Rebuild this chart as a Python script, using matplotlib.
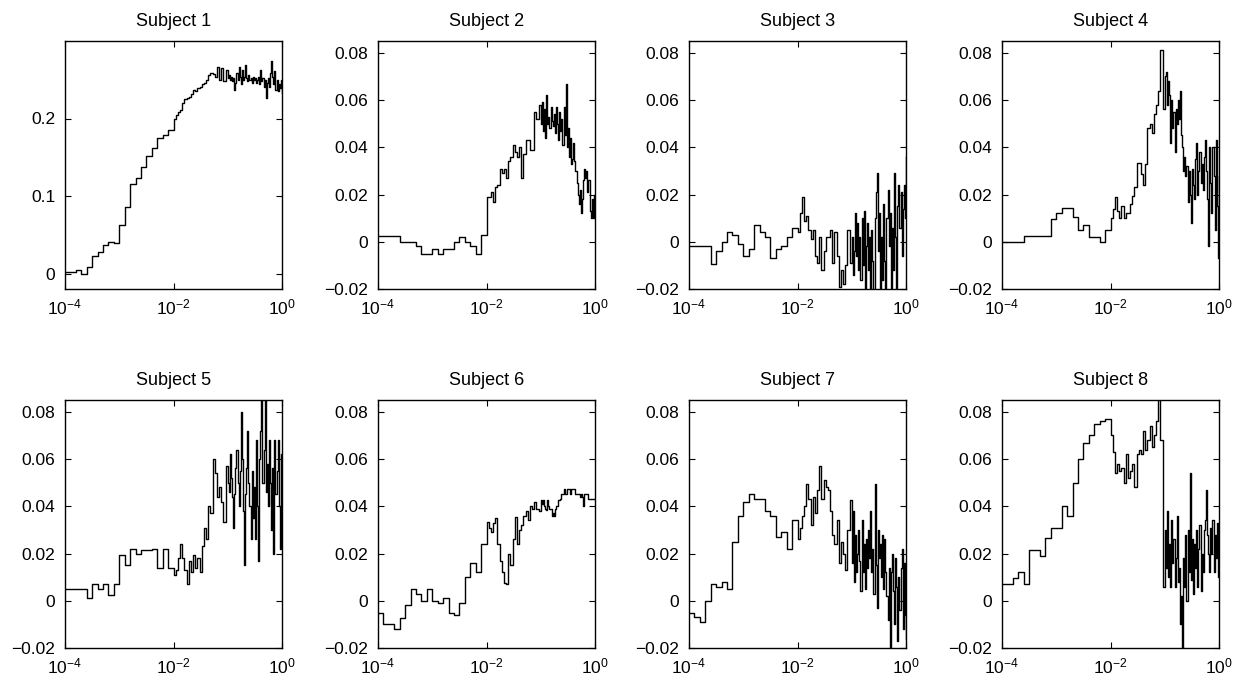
import numpy as np
import matplotlib
matplotlib.use("Agg")
import matplotlib.pyplot as plt
from matplotlib.ticker import FixedLocator, NullLocator, FuncFormatter

plt.rcParams['font.family'] = ['Liberation Sans', 'DejaVu Sans']
plt.rcParams['mathtext.fontset'] = 'custom'
plt.rcParams['mathtext.rm'] = 'Liberation Sans'
plt.rcParams['mathtext.it'] = 'Liberation Sans:italic'
plt.rcParams['mathtext.bf'] = 'Liberation Sans:bold'

# sampling grid in log10(x): coarse at the left, finer to the right
log_x = np.concatenate([np.linspace(-4.0, -2.1, 20),
                        np.linspace(-2.0, -1.04, 25),
                        np.linspace(-1.0, 0.0, 51)])

titles = ["Subject %d" % k for k in range(1, 9)]

s1 = [0.002, 0.002, 0.004, 0.0, 0.008, 0.022, 0.028, 0.037, 0.041, 0.040,
      0.062, 0.086, 0.116, 0.123, 0.138, 0.151, 0.162, 0.175, 0.179, 0.185,
      0.200, 0.205, 0.209, 0.211, 0.220, 0.225, 0.226, 0.228, 0.232, 0.237,
      0.235, 0.239, 0.241, 0.244, 0.246, 0.250, 0.256, 0.259, 0.258, 0.254,
      0.267, 0.250, 0.265, 0.248, 0.263,
      0.252, 0.256, 0.250, 0.254, 0.248, 0.252, 0.237, 0.246, 0.259, 0.250,
      0.267, 0.254, 0.244, 0.263, 0.250, 0.254, 0.269, 0.252, 0.248, 0.256,
      0.250, 0.252, 0.246, 0.254, 0.250, 0.252, 0.246, 0.250, 0.254, 0.244,
      0.263, 0.248, 0.252, 0.241, 0.250, 0.226, 0.246, 0.252, 0.241, 0.259,
      0.274, 0.254, 0.244, 0.261, 0.237, 0.250, 0.235, 0.244, 0.239, 0.250,
      0.233]

s2 = [0.0025, 0.0025, 0.0025, 0.0025, 0.0, 0.0, 0.0, -0.002, -0.005, -0.005,
      -0.003, -0.005, -0.003, -0.003, 0.0, 0.002, 0.0, -0.002, -0.005, 0.003,
      0.019, 0.019, 0.021, 0.017, 0.023, 0.024, 0.031, 0.029, 0.031, 0.027,
      0.034, 0.036, 0.041, 0.038, 0.036, 0.040, 0.027, 0.037, 0.043, 0.043,
      0.039, 0.039, 0.055, 0.052, 0.058,
      0.050, 0.059, 0.047, 0.056, 0.044, 0.062, 0.050, 0.053, 0.048, 0.057,
      0.051, 0.049, 0.054, 0.046, 0.057, 0.050, 0.043, 0.055, 0.047, 0.052,
      0.041, 0.057, 0.045, 0.067, 0.040, 0.048, 0.036, 0.044, 0.033, 0.035,
      0.042, 0.034, 0.030, 0.025, 0.020, 0.016, 0.022, 0.012, 0.018, 0.026,
      0.031, 0.027, 0.030, 0.021, 0.026, 0.013, 0.010, 0.018, 0.010, 0.020,
      0.010]

s3 = [-0.002, -0.002, -0.002, -0.002, -0.0095, -0.004, 0.0, 0.004, 0.003, -0.001,
      -0.006, -0.003, 0.007, 0.004, 0.002, -0.007, -0.003, -0.002, 0.002, 0.006,
      0.004, 0.012, 0.019, 0.009, 0.011, 0.005, 0.001, 0.005, -0.006, -0.009,
      0.002, -0.012, -0.004, 0.002, 0.002, 0.005, -0.009, 0.004, -0.006, -0.019,
      -0.012, -0.018, -0.010, 0.005, -0.009,
      0.002, -0.014, -0.004, 0.012, -0.006, 0.008, -0.012, 0.002, -0.016, 0.010,
      -0.010, 0.013, -0.021, -0.002, 0.008, -0.012, 0.002, -0.021, 0.005, -0.008,
      -0.021, 0.010, 0.021, 0.029, -0.004, 0.012, -0.021, 0.002, -0.016, 0.016,
      -0.008, -0.021, 0.010, 0.022, -0.002, 0.012, -0.021, 0.006, -0.012, 0.029,
      0.002, -0.021, 0.015, 0.024, 0.006, 0.021, -0.006, 0.014, 0.024, 0.010,
      0.036]

s4 = [0.0, 0.0, 0.0, 0.0, 0.0025, 0.0025, 0.0025, 0.0025, 0.0025, 0.0095,
      0.012, 0.0145, 0.0145, 0.0105, 0.005, 0.007, 0.002, 0.002, 0.0, 0.005,
      0.010, 0.014, 0.019, 0.013, 0.010, 0.015, 0.010, 0.012, 0.012, 0.016,
      0.0195, 0.023, 0.0335, 0.0335, 0.0285, 0.024, 0.033, 0.048, 0.050, 0.046,
      0.054, 0.058, 0.064, 0.081, 0.056,
      0.070, 0.072, 0.058, 0.068, 0.062, 0.042, 0.060, 0.048, 0.055, 0.038,
      0.056, 0.050, 0.060, 0.052, 0.064, 0.045, 0.040, 0.030, 0.036, 0.028,
      0.032, 0.017, 0.030, 0.020, 0.008, 0.031, 0.024, 0.018, 0.035, 0.042,
      0.020, 0.030, 0.038, 0.025, 0.033, 0.022, 0.036, 0.043, 0.030, 0.018,
      -0.002, 0.040, 0.025, 0.012, 0.040, 0.028, 0.005, 0.043, 0.015, -0.007,
      0.028]

s5 = [0.005, 0.005, 0.005, 0.005, 0.001, 0.007, 0.005, 0.007, 0.0025, 0.007,
      0.0195, 0.015, 0.022, 0.020, 0.0215, 0.0215, 0.022, 0.014, 0.022, 0.014,
      0.011, 0.013, 0.018, 0.024, 0.018, 0.013, 0.007, 0.017, 0.012, 0.0195,
      0.014, 0.018, 0.012, 0.023, 0.031, 0.026, 0.040, 0.037, 0.060, 0.054,
      0.044, 0.048, 0.042, 0.0335, 0.057,
      0.050, 0.046, 0.062, 0.052, 0.044, 0.031, 0.045, 0.056, 0.064, 0.050,
      0.040, 0.055, 0.080, 0.060, 0.038, 0.015, 0.045, 0.056, 0.072, 0.050,
      0.040, 0.026, 0.055, 0.035, 0.048, 0.026, 0.068, 0.040, 0.017, 0.060,
      0.072, 0.088, 0.050, 0.064, 0.088, 0.046, 0.058, 0.040, 0.068, 0.050,
      0.030, 0.056, 0.020, 0.068, 0.045, 0.055, 0.068, 0.040, 0.022, 0.062,
      0.040]

s6 = [-0.005, -0.010, -0.010, -0.012, -0.0075, -0.002, 0.005, 0.003, 0.0, 0.005,
      0.0, -0.001, 0.001, -0.005, -0.006, -0.001, 0.010, 0.016, 0.012, 0.024,
      0.0335, 0.031, 0.029, 0.033, 0.035, 0.024, 0.017, 0.012, 0.0075, 0.007,
      0.020, 0.015, 0.026, 0.0355, 0.024, 0.030, 0.032, 0.036, 0.038, 0.034,
      0.040, 0.039, 0.042, 0.039, 0.038,
      0.0425, 0.041, 0.0425, 0.040, 0.039, 0.0385, 0.0425, 0.040, 0.039, 0.039,
      0.036, 0.037, 0.036, 0.039, 0.040, 0.040, 0.0425, 0.0425, 0.043, 0.045,
      0.045, 0.0475, 0.045, 0.045, 0.0475, 0.0475, 0.0475, 0.045, 0.0475, 0.0475,
      0.0475, 0.0475, 0.045, 0.045, 0.045, 0.045, 0.044, 0.045, 0.044, 0.040,
      0.045, 0.045, 0.045, 0.045, 0.043, 0.043, 0.043, 0.043, 0.043, 0.043,
      0.043]

s7 = [-0.005, -0.007, -0.009, 0.0, 0.007, 0.006, 0.008, 0.005, 0.025, 0.036,
      0.042, 0.045, 0.043, 0.043, 0.038, 0.036, 0.027, 0.029, 0.022, 0.034,
      0.026, 0.031, 0.036, 0.040, 0.0495, 0.043, 0.032, 0.044, 0.037, 0.047,
      0.057, 0.043, 0.051, 0.048, 0.047, 0.038, 0.028, 0.024, 0.034, 0.016,
      0.025, 0.020, 0.013, 0.030, 0.0425,
      0.016, 0.038, 0.008, 0.028, 0.012, 0.020, 0.030, 0.017, 0.004, 0.034,
      0.012, 0.024, 0.005, 0.026, 0.014, 0.030, 0.018, 0.038, 0.012, 0.022,
      0.003, 0.0495, 0.015, -0.003, 0.030, 0.018, 0.024, 0.010, 0.028, 0.005,
      0.026, 0.012, 0.002, -0.008, 0.014, -0.021, 0.012, 0.020, 0.004, -0.010,
      0.018, 0.006, -0.017, 0.010, -0.004, 0.014, 0.022, -0.012, 0.016, -0.006,
      -0.016]

s8 = [0.007, 0.007, 0.0095, 0.012, 0.007, 0.0215, 0.0215, 0.019, 0.0265, 0.031,
      0.031, 0.040, 0.036, 0.050, 0.060, 0.067, 0.070, 0.075, 0.076, 0.077,
      0.070, 0.063, 0.054, 0.058, 0.055, 0.056, 0.050, 0.062, 0.052, 0.055,
      0.058, 0.048, 0.062, 0.064, 0.062, 0.072, 0.064, 0.068, 0.074, 0.065,
      0.070, 0.076, 0.088, 0.068, 0.006,
      0.030, 0.014, 0.038, 0.010, 0.024, 0.006, 0.034, 0.016, 0.026, 0.006,
      0.018, 0.036, 0.008, 0.014, -0.010, 0.002, -0.020, 0.018, 0.006, 0.028,
      0.000, 0.030, 0.012, 0.054, 0.009, 0.026, 0.003, 0.024, 0.014, 0.030,
      0.006, 0.022, 0.032, 0.004, 0.020, 0.012, 0.030, 0.034, 0.047, 0.028,
      0.020, 0.012, 0.031, 0.020, 0.034, 0.012, 0.028, 0.018, 0.033, 0.010,
      0.020]

series = [s1, s2, s3, s4, s5, s6, s7, s8]

y_lims = [(-0.02, 0.3)] + [(-0.02, 0.085)] * 7
y_ticks = [[0, 0.1, 0.2]] + [[-0.02, 0, 0.02, 0.04, 0.06, 0.08]] * 7


def fmt_y(v, pos):
    s = "%g" % round(v, 4)
    return s.replace("-", "\u2212")


fig = plt.figure(figsize=(12.4, 6.82), dpi=100)

# axes boxes in pixels (left, top) measured on the reference
lefts = [65, 378, 689, 1002]
tops = [41, 400]
w_px, h_px = 217, 248

x = 10.0 ** log_x
for i, ys in enumerate(series):
    assert len(ys) == len(x), (i, len(ys))
    r, c = divmod(i, 4)
    ax = fig.add_axes([lefts[c] / 1240, 1 - (tops[r] + h_px) / 682,
                       w_px / 1240, h_px / 682])
    ax.plot(x, ys, color='black', lw=1.0, drawstyle='steps-post')
    ax.set_xscale('log')
    ax.set_xlim(1e-4, 1)
    ax.set_ylim(*y_lims[i])
    ax.xaxis.set_major_locator(FixedLocator([1e-4, 1e-2, 1]))
    ax.xaxis.set_minor_locator(NullLocator())
    ax.yaxis.set_major_locator(FixedLocator(y_ticks[i]))
    ax.yaxis.set_major_formatter(FuncFormatter(fmt_y))
    ax.tick_params(direction='in', top=True, right=True, length=4,
                   width=0.8, labelsize=12.5, pad=7)
    ax.tick_params(axis='x', pad=6)
    for sp in ax.spines.values():
        sp.set_linewidth(1.0)
    ax.set_title(titles[i], fontsize=13, pad=11)

fig.savefig("out.png", dpi=100)
